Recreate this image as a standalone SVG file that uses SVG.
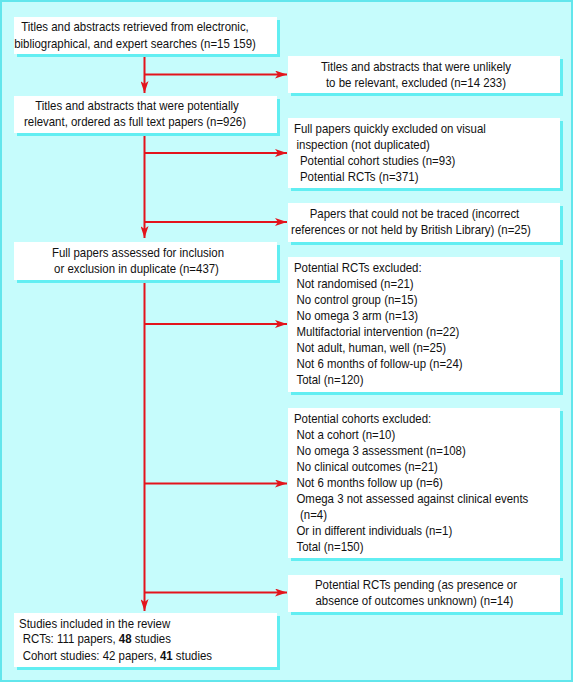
<svg xmlns="http://www.w3.org/2000/svg" width="574" height="684" viewBox="0 0 574 684">
<style>
.bg{fill:#c6fcfc;stroke:#62e6ec;stroke-width:2}
.box{fill:#ffffff}
.sh{fill:#62eef2}
text{font-family:"Liberation Sans",Arial,sans-serif;font-size:12.5px;fill:#111}
.c{text-anchor:middle}
.ln{stroke:#e3141c;stroke-width:2;fill:none}
</style>
<defs>
<marker id="ah" markerUnits="userSpaceOnUse" markerWidth="12" markerHeight="8" refX="12" refY="4" orient="auto">
<path d="M0,0 L12,4 L0,8 L3,4 z" fill="#e3141c"/>
</marker>
</defs>
<rect class="bg" x="1" y="1" width="571" height="680"/>

<g id="connectors">
<line class="ln" x1="144.5" y1="54" x2="144.5" y2="93" marker-end="url(#ah)"/>
<line class="ln" x1="144.5" y1="133" x2="144.5" y2="238" marker-end="url(#ah)"/>
<line class="ln" x1="144.5" y1="280" x2="144.5" y2="611" marker-end="url(#ah)"/>
<line class="ln" x1="144.5" y1="74.5" x2="287" y2="74.5" marker-end="url(#ah)"/>
<line class="ln" x1="144.5" y1="153" x2="287" y2="153" marker-end="url(#ah)"/>
<line class="ln" x1="144.5" y1="222" x2="287" y2="222" marker-end="url(#ah)"/>
<line class="ln" x1="144.5" y1="324" x2="287" y2="324" marker-end="url(#ah)"/>
<line class="ln" x1="144.5" y1="483.5" x2="287" y2="483.5" marker-end="url(#ah)"/>
<line class="ln" x1="144.5" y1="592.5" x2="287" y2="592.5" marker-end="url(#ah)"/>
</g>

<g id="n1">
<rect class="sh" x="17" y="20" width="263" height="37"/>
<rect class="box" x="14" y="17" width="263" height="37"/>
<g transform="scale(0.915 1)">
<text class="c" x="147.54" y="31.2">Titles and abstracts retrieved from electronic,</text>
<text class="c" x="147.54" y="47.8">bibliographical, and expert searches (n=15 159)</text>
</g>
</g>

<g id="n2">
<rect class="sh" x="291" y="59" width="272" height="37"/>
<rect class="box" x="288" y="56" width="272" height="37"/>
<g transform="scale(0.915 1)">
<text class="c" x="454.64" y="71.2">Titles and abstracts that were unlikely</text>
<text class="c" x="454.64" y="87.2">to be relevant, excluded (n=14 233)</text>
</g>
</g>

<g id="n3">
<rect class="sh" x="17" y="99" width="263" height="37"/>
<rect class="box" x="14" y="96" width="263" height="37"/>
<g transform="scale(0.915 1)">
<text class="c" x="149.73" y="110.5">Titles and abstracts that were potentially</text>
<text class="c" x="147.54" y="126.2">relevant, ordered as full text papers (n=926)</text>
</g>
</g>

<g id="n4">
<rect class="sh" x="291" y="121" width="272" height="70"/>
<rect class="box" x="288" y="118" width="272" height="70"/>
<g transform="scale(0.915 1)">
<text x="321.31" y="132.8">Full papers quickly excluded on visual</text>
<text x="324.04" y="148.8">inspection (not duplicated)</text>
<text x="327.87" y="164.8">Potential cohort studies (n=93)</text>
<text x="327.87" y="180.8">Potential RCTs (n=371)</text>
</g>
</g>

<g id="n5">
<rect class="sh" x="291" y="206" width="272" height="39"/>
<rect class="box" x="288" y="203" width="272" height="39"/>
<g transform="scale(0.915 1)">
<text class="c" x="453.01" y="217.8">Papers that could not be traced (incorrect</text>
<text class="c" x="449.18" y="234.5">references or not held by British Library) (n=25)</text>
</g>
</g>

<g id="n6">
<rect class="sh" x="17" y="245" width="263" height="38"/>
<rect class="box" x="14" y="242" width="263" height="38"/>
<g transform="scale(0.915 1)">
<text class="c" x="150.82" y="256.8">Full papers assessed for inclusion</text>
<text class="c" x="149.18" y="272.8">or exclusion in duplicate (n=437)</text>
</g>
</g>

<g id="n7">
<rect class="sh" x="291" y="260" width="272" height="135"/>
<rect class="box" x="288" y="257" width="272" height="135"/>
<g transform="scale(0.915 1)">
<text x="321.31" y="271.8">Potential RCTs excluded:</text>
<text x="324.04" y="287.8">Not randomised (n=21)</text>
<text x="324.04" y="303.8">No control group (n=15)</text>
<text x="324.04" y="319.8">No omega 3 arm (n=13)</text>
<text x="324.04" y="335.8">Multifactorial intervention (n=22)</text>
<text x="324.04" y="351.8">Not adult, human, well (n=25)</text>
<text x="324.04" y="367.8">Not 6 months of follow-up (n=24)</text>
<text x="324.04" y="383.8">Total (n=120)</text>
</g>
</g>

<g id="n8">
<rect class="sh" x="291" y="411" width="272" height="150"/>
<rect class="box" x="288" y="408" width="272" height="150"/>
<g transform="scale(0.915 1)">
<text x="321.31" y="423.5">Potential cohorts excluded:</text>
<text x="324.04" y="439.5">Not a cohort (n=10)</text>
<text x="324.04" y="455.5">No omega 3 assessment (n=108)</text>
<text x="324.04" y="471.5">No clinical outcomes (n=21)</text>
<text x="324.04" y="487.5">Not 6 months follow up (n=6)</text>
<text x="324.04" y="503.5">Omega 3 not assessed against clinical events</text>
<text x="327.87" y="519.5">(n=4)</text>
<text x="324.04" y="535.5">Or in different individuals (n=1)</text>
<text x="324.04" y="551.5">Total (n=150)</text>
</g>
</g>

<g id="n9">
<rect class="sh" x="291" y="578" width="272" height="37"/>
<rect class="box" x="288" y="575" width="272" height="37"/>
<g transform="scale(0.915 1)">
<text x="344.26" y="589.5">Potential RCTs pending (as presence or</text>
<text x="344.81" y="605.2">absence of outcomes unknown) (n=14)</text>
</g>
</g>

<g id="n10">
<rect class="sh" x="17" y="616" width="263" height="54"/>
<rect class="box" x="14" y="613" width="263" height="54"/>
<g transform="scale(0.915 1)">
<text x="20.77" y="627.8">Studies included in the review</text>
<text x="24.81" y="643.5">RCTs: 111 papers, <tspan font-weight="bold">48</tspan> studies</text>
<text x="24.81" y="660.2">Cohort studies: 42 papers, <tspan font-weight="bold">41</tspan> studies</text>
</g>
</g>
</svg>
